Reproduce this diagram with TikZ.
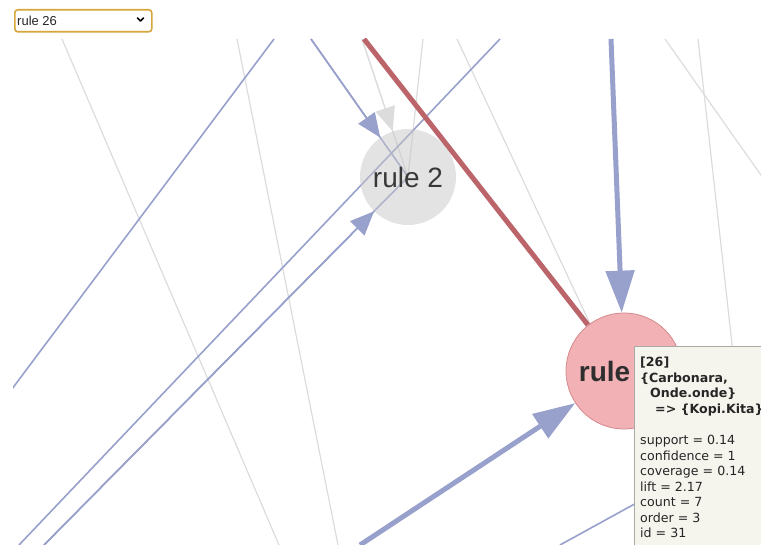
\documentclass[tikz,border=0pt]{standalone}
\usepackage{fontspec}
\setmainfont{Liberation Sans}
\newfontfamily\tipfont{DejaVu Sans}
\usetikzlibrary{arrows.meta,backgrounds}
\definecolor{edgeblue}{RGB}{152,160,204}
\definecolor{edgegray}{RGB}{220,220,220}
\definecolor{edgered}{RGB}{187,100,106}
\definecolor{rulepink}{RGB}{242,177,180}
\definecolor{ruleborder}{RGB}{212,138,142}
\definecolor{selectgold}{RGB}{214,166,58}
\definecolor{tipfill}{RGB}{245,244,237}
\definecolor{tipborder}{RGB}{170,170,165}
\begin{document}
\begin{tikzpicture}[x=1pt,y=-1pt,
	grayedge/.style={color=edgegray,line width=1.2pt},
	blueedge/.style={color=edgeblue,line width=1.6pt},
	thickedge/.style={color=edgeblue,line width=5pt},
	smalltip/.style={-{Triangle[length=24pt,width=20pt]}},
	bigtip/.style={-{Triangle[length=42pt,width=28pt]}},
	rulenode/.style={circle,inner sep=0pt,font=\fontsize{28}{30}\selectfont}]
	\useasboundingbox (0,0) rectangle (761,545);
	\node (select) at (14,9) [anchor=north west,draw=selectgold,line width=1.6pt,rounded corners=3pt,fill=white,minimum width=137pt,minimum height=22pt] {};
	\node (selecttext) at (17,20.5) [anchor=west,inner sep=0pt,font=\fontsize{13}{15}\selectfont,text=black!85] {rule 26};
	\draw[line width=1.6pt,line cap=round,line join=round] (137.5,18) -- ++(3,3) -- ++(3,-3);
	
	\node (rule2) at (408,177) [rulenode,minimum size=96pt,fill=black!22,fill opacity=0.5,text opacity=1,text=black!78] {rule 2};
	\node (rule26) at (624,371) [rulenode,minimum size=116pt,fill=rulepink,draw=ruleborder,line width=0.8pt,font=\fontsize{28}{30}\selectfont\bfseries,text=black!82] {rule 26};
	
	\node (tip) at (634,346) [anchor=north west,draw=tipborder,fill=tipfill,line width=1pt,minimum width=150pt,minimum height=220pt] {};
	\node (tiptext) at (640,357) [anchor=north west,inner sep=0pt,align=left,font=\tipfont\fontsize{12.6}{15.55}\selectfont,text=black!85] {\textbf{[26]}\\ \textbf{\{Carbonara,}\\ \hspace*{10pt}\textbf{Onde.onde\}}\\ \hspace*{15pt}\textbf{=> \{Kopi.Kita\}}\\ ~\\ support = 0.14\\ confidence = 1\\ coverage = 0.14\\ lift = 2.17\\ count = 7\\ order = 3\\ id = 31};
	
	\begin{scope}[on background layer]
		\clip (13,39) rectangle (761,545);
		\coordinate (ga1) at (62,39);
		\coordinate (ga2) at (279,545);
		\coordinate (gb1) at (237,39);
		\coordinate (gb2) at (338,545);
		\coordinate (gc1) at (362,39);
		\coordinate (gd1) at (423,39);
		\coordinate (ge1) at (457,39);
		\coordinate (ge2) at (612,371);
		\coordinate (gf1) at (665,39);
		\coordinate (gf2) at (775,195);
		\coordinate (gg1) at (698,39);
		\coordinate (gg2) at (736,380);
		\coordinate (ba1) at (274,39);
		\coordinate (ba2) at (0,405);
		\coordinate (bb1) at (311,39);
		\coordinate (bc1) at (500,39);
		\coordinate (bc2) at (19,545);
		\coordinate (bd1) at (44,545);
		\coordinate (be1) at (560,545);
		\coordinate (be2) at (720,457);
		\coordinate (bf1) at (360,545);
		\coordinate (bg1) at (611,39);
		\coordinate (ra1) at (364,39);
		
		\draw[grayedge] (ga1) -- (ga2);
		\draw[grayedge] (gb1) -- (gb2);
		\draw[grayedge] (gc1) -- (rule2.center);
		\draw[grayedge,smalltip] (gc1) -- (rule2);
		\draw[grayedge] (gd1) -- (rule2.center);
		\draw[grayedge] (ge1) -- (ge2);
		\draw[grayedge] (gf1) -- (gf2);
		\draw[grayedge] (gg1) -- (gg2);
		
		\draw[blueedge] (ba1) -- (ba2);
		\draw[blueedge] (bb1) -- (rule2.center);
		\draw[blueedge,smalltip] (bb1) -- (rule2);
		\draw[blueedge] (bc1) -- (bc2);
		\draw[blueedge] (bd1) -- (rule2.center);
		\draw[blueedge,smalltip] (bd1) -- (rule2);
		\draw[blueedge] (be1) -- (be2);
		\draw[thickedge,bigtip] (bf1) -- (rule26);
		\draw[thickedge,bigtip] (bg1) -- (rule26);
		
		\draw[color=edgered,line width=5pt] (ra1) -- (rule26);
	\end{scope}
\end{tikzpicture}
\end{document}
